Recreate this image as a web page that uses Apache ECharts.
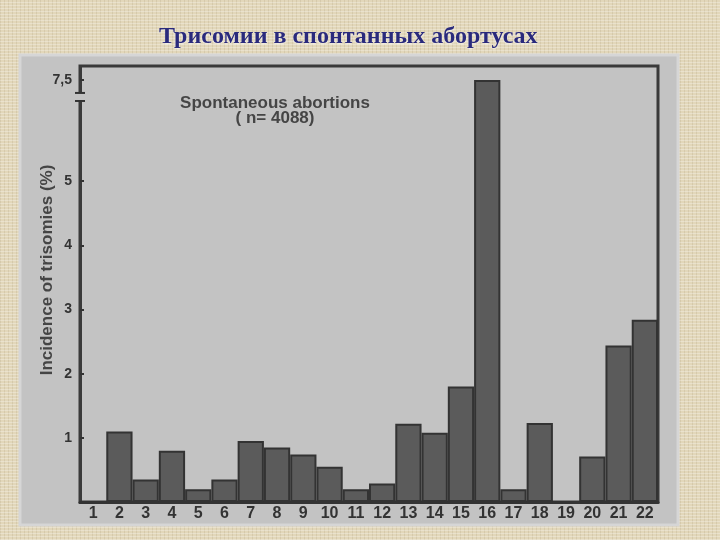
<!DOCTYPE html>
<html><head><meta charset="utf-8">
<script src="https://cdn.jsdelivr.net/npm/echarts@6/dist/echarts.min.js"></script>
<style>
html,body{margin:0;padding:0;}
body{width:720px;height:540px;background-color:#e2d7ba;
background-image:repeating-linear-gradient(0deg,rgba(255,255,255,.28) 0 1px,transparent 1px 3px),repeating-linear-gradient(90deg,rgba(140,120,80,.14) 0 1px,transparent 1px 4px);}
#c{width:720px;height:540px;}
</style></head><body><div id="c"></div>
<script>
const categories = ['1','2','3','4','5','6','7','8','9','10','11','12','13','14','15','16','17','18','19','20','21','22'];
const trisomyIncidence = [0, 1.1, 0.35, 0.8, 0.2, 0.35, 0.95, 0.85, 0.74, 0.55, 0.2, 0.29, 1.22, 1.08, 1.8, 7.5, 0.2, 1.23, 0, 0.71, 2.44, 2.84];
const yTickValues = [1, 2, 3, 4, 5, 7.5];
const chartTitle = 'Трисомии в спонтанных абортусах';
const innerTitle = 'Spontaneous abortions\n( n= 4088)';
const yAxisName = 'Incidence of trisomies (%)';
const breakStart = 6.25, breakEnd = 7.3;

const chart = echarts.init(document.getElementById('c'), null, {renderer:'canvas'});
const panel = {type: 'rect', z: -10, shape: {x: 20, y: 55, width: 658, height: 470}, style: {fill: '#c3c3c3', stroke: '#d6d6d6', lineWidth: 3}};
const option = {
  backgroundColor: 'transparent',
  animation: false,
  title: [
    {text: chartTitle, left: 154, top: 20,
     textStyle: {fontFamily: 'Liberation Serif', fontWeight: 'bold', fontSize: 24, color: '#2a2a7c',
       textShadowColor: 'rgba(255,255,255,0.8)', textShadowBlur: 2, textShadowOffsetY: 1}},
    {text: innerTitle, left: 270, top: 91, textAlign: 'center',
     textStyle: {fontFamily: 'Liberation Sans', fontWeight: 'bold', fontSize: 17, color: '#454545', lineHeight: 15, align: 'center'}}
  ],
  graphic: [panel],
  grid: {left: 80, right: 62, top: 66, bottom: 38, show: true, borderColor: '#3a3a3a', borderWidth: 3, backgroundColor: 'transparent'},
  xAxis: {
    type: 'category', data: categories,
    axisLine: {show: true, lineStyle: {color: '#333', width: 3}},
    axisTick: {show: false},
    axisLabel: {fontFamily: 'Liberation Sans', fontWeight: 'bold', fontSize: 16, color: '#333', margin: 4}
  },
  yAxis: {
    type: 'value', min: 0, max: 7.72,
    breaks: [{start: breakStart, end: breakEnd, gap: 0.125}],
    breakArea: {show: true, expandOnClick: false, zigzagAmplitude: 0,
      itemStyle: {color: 'rgba(0,0,0,0)', borderColor: 'rgba(0,0,0,0)', borderWidth: 0, opacity: 0}},
    splitLine: {show: false},
    axisLine: {show: true, lineStyle: {color: '#3a3a3a', width: 3}},
    axisTick: {show: true, inside: true, length: 4, lineStyle: {color: '#333', width: 2}, customValues: yTickValues},
    axisLabel: {fontFamily: 'Liberation Sans', fontWeight: 'bold', fontSize: 14, color: '#333', margin: 8,
      customValues: yTickValues, formatter: v => String(v).replace('.', ',')},
    name: yAxisName, nameLocation: 'middle', nameGap: 24, nameMoveOverlap: false,
    nameTextStyle: {fontFamily: 'Liberation Sans', fontWeight: 'bold', fontSize: 17, color: '#454545', padding: [0, 0, 0, 28]}
  },
  series: [{
    type: 'bar', data: trisomyIncidence, barWidth: '100%',
    itemStyle: {color: '#5b5b5b', borderColor: '#333', borderWidth: 2}
  }]
};
chart.setOption(option);
const yTop = chart.convertToPixel({yAxisIndex: 0}, breakEnd);
const yBot = chart.convertToPixel({yAxisIndex: 0}, breakStart);
const ax = 80;
chart.setOption({graphic: [
  panel,
  {type: 'rect', z: 100, shape: {x: ax - 3, y: yTop, width: 6, height: yBot - yTop}, style: {fill: '#c3c3c3'}},
  {type: 'line', z: 101, shape: {x1: ax - 5, y1: yTop, x2: ax + 5, y2: yTop}, style: {stroke: '#333', lineWidth: 2}},
  {type: 'line', z: 101, shape: {x1: ax - 5, y1: yBot, x2: ax + 5, y2: yBot}, style: {stroke: '#333', lineWidth: 2}}
]});
</script></body></html>
